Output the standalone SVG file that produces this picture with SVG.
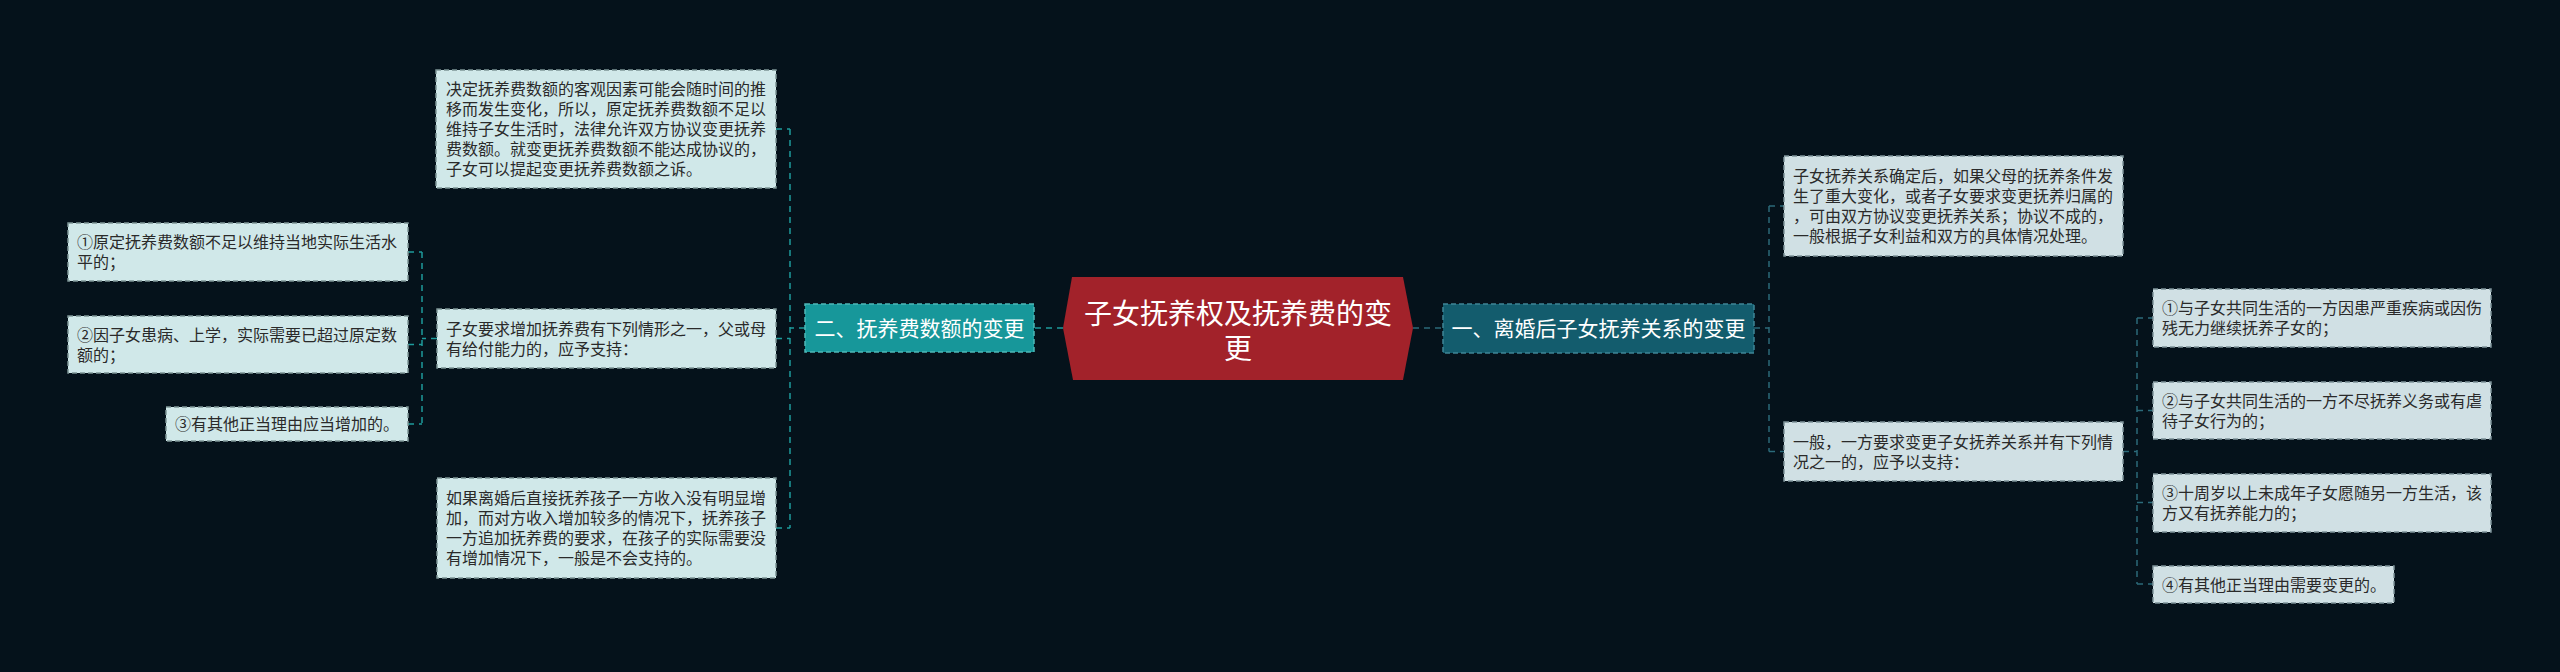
<svg xmlns="http://www.w3.org/2000/svg" width="2560" height="672" viewBox="0 0 2560 672">
<style>
text{font-family:"Noto Sans CJK SC","Noto Sans",sans-serif}
.t{font-size:16px;fill:#2a2a2a}
.lb{fill:#d0e8e9;stroke:#7d9597;stroke-width:1.5;stroke-dasharray:5 3}
.rb{fill:#d0e0e4;stroke:#7d9299;stroke-width:1.5;stroke-dasharray:5 3}
.lc{fill:none;stroke:#1e9b9c;stroke-width:1.5;stroke-dasharray:6 5}
.rc{fill:none;stroke:#2b6a7a;stroke-width:1.5;stroke-dasharray:6 5}
.bt{font-size:21px;fill:#ffffff;text-anchor:middle}
</style>
<rect x="0" y="0" width="2560" height="672" fill="#05121b"/>
<g id="connectors">
<path class="lc" d="M1063 328 H1034"/>
<path class="lc" d="M805 328 H790 M790 129 V528 M776 129 H790 M776 338.5 H790 M776 528 H790"/>
<path class="lc" d="M437 338.5 H422 M422 252 V424 M408 252 H422 M408 344.5 H422 M408 424 H422"/>
<path class="rc" d="M1413 328 H1443" stroke-width="2"/>
<path class="rc" d="M1754 328 H1769 M1769 206 V451.5 M1769 206 H1784 M1769 451.5 H1784"/>
<path class="rc" d="M2123 451.5 H2137 M2137 318 V584 M2137 318 H2153 M2137 410.5 H2153 M2137 502.5 H2153 M2137 584 H2153"/>
</g>
<g id="center">
<polygon points="1072,277 1403,277 1413,328 1403,380 1073,380 1063,328" fill="#a2222a"/>
<text x="1238" y="324" font-size="28" fill="#ffffff" text-anchor="middle">子女抚养权及抚养费的变</text>
<text x="1238" y="359" font-size="28" fill="#ffffff" text-anchor="middle">更</text>
</g>
<g id="branch-left">
<rect x="805" y="304" width="229" height="48" fill="#17979a" stroke="#4fb8b8" stroke-width="1.5" stroke-dasharray="5 3"/>
<text class="bt" x="919.5" y="336">二、抚养费数额的变更</text>
</g>
<g id="branch-right">
<rect x="1443" y="304" width="311" height="49" fill="#135c6d" stroke="#3f8596" stroke-width="1.5" stroke-dasharray="5 3"/>
<text class="bt" x="1598.5" y="336">一、离婚后子女抚养关系的变更</text>
</g>
<g id="l1">
<rect class="lb" x="436" y="70" width="340" height="118"/>
<text class="t" x="446" y="95">决定抚养费数额的客观因素可能会随时间的推</text>
<text class="t" x="446" y="115">移而发生变化，所以，原定抚养费数额不足以</text>
<text class="t" x="446" y="135">维持子女生活时，法律允许双方协议变更抚养</text>
<text class="t" x="446" y="155">费数额。就变更抚养费数额不能达成协议的，</text>
<text class="t" x="446" y="175">子女可以提起变更抚养费数额之诉。</text>
</g>
<g id="l2">
<rect class="lb" x="437" y="309" width="339" height="59"/>
<text class="t" x="446" y="334.5">子女要求增加抚养费有下列情形之一，父或母</text>
<text class="t" x="446" y="354.5">有给付能力的，应予支持：</text>
</g>
<g id="l3">
<rect class="lb" x="437" y="478" width="339" height="100"/>
<text class="t" x="446" y="504">如果离婚后直接抚养孩子一方收入没有明显增</text>
<text class="t" x="446" y="524">加，而对方收入增加较多的情况下，抚养孩子</text>
<text class="t" x="446" y="544">一方追加抚养费的要求，在孩子的实际需要没</text>
<text class="t" x="446" y="564">有增加情况下，一般是不会支持的。</text>
</g>
<g id="l2a">
<rect class="lb" x="68" y="223" width="340" height="58"/>
<text class="t" x="77" y="248">①原定抚养费数额不足以维持当地实际生活水</text>
<text class="t" x="77" y="268">平的；</text>
</g>
<g id="l2b">
<rect class="lb" x="68" y="316" width="340" height="57"/>
<text class="t" x="77" y="340.5">②因子女患病、上学，实际需要已超过原定数</text>
<text class="t" x="77" y="360.5">额的；</text>
</g>
<g id="l2c">
<rect class="lb" x="166" y="407" width="242" height="34"/>
<text class="t" x="175" y="430">③有其他正当理由应当增加的。</text>
</g>
<g id="r1">
<rect class="rb" x="1784" y="156" width="339" height="100"/>
<text class="t" x="1793" y="182">子女抚养关系确定后，如果父母的抚养条件发</text>
<text class="t" x="1793" y="202">生了重大变化，或者子女要求变更抚养归属的</text>
<text class="t" x="1793" y="222">，可由双方协议变更抚养关系；协议不成的，</text>
<text class="t" x="1793" y="242">一般根据子女利益和双方的具体情况处理。</text>
</g>
<g id="r2">
<rect class="rb" x="1784" y="422" width="339" height="59"/>
<text class="t" x="1793" y="447.5">一般，一方要求变更子女抚养关系并有下列情</text>
<text class="t" x="1793" y="467.5">况之一的，应予以支持：</text>
</g>
<g id="r2a">
<rect class="rb" x="2153" y="289" width="338" height="58"/>
<text class="t" x="2162" y="314">①与子女共同生活的一方因患严重疾病或因伤</text>
<text class="t" x="2162" y="334">残无力继续抚养子女的；</text>
</g>
<g id="r2b">
<rect class="rb" x="2153" y="382" width="338" height="57"/>
<text class="t" x="2162" y="406.5">②与子女共同生活的一方不尽抚养义务或有虐</text>
<text class="t" x="2162" y="426.5">待子女行为的；</text>
</g>
<g id="r2c">
<rect class="rb" x="2153" y="474" width="338" height="58"/>
<text class="t" x="2162" y="499">③十周岁以上未成年子女愿随另一方生活，该</text>
<text class="t" x="2162" y="519">方又有抚养能力的；</text>
</g>
<g id="r2d">
<rect class="rb" x="2153" y="566" width="241" height="37"/>
<text class="t" x="2162" y="590.5">④有其他正当理由需要变更的。</text>
</g>
</svg>
